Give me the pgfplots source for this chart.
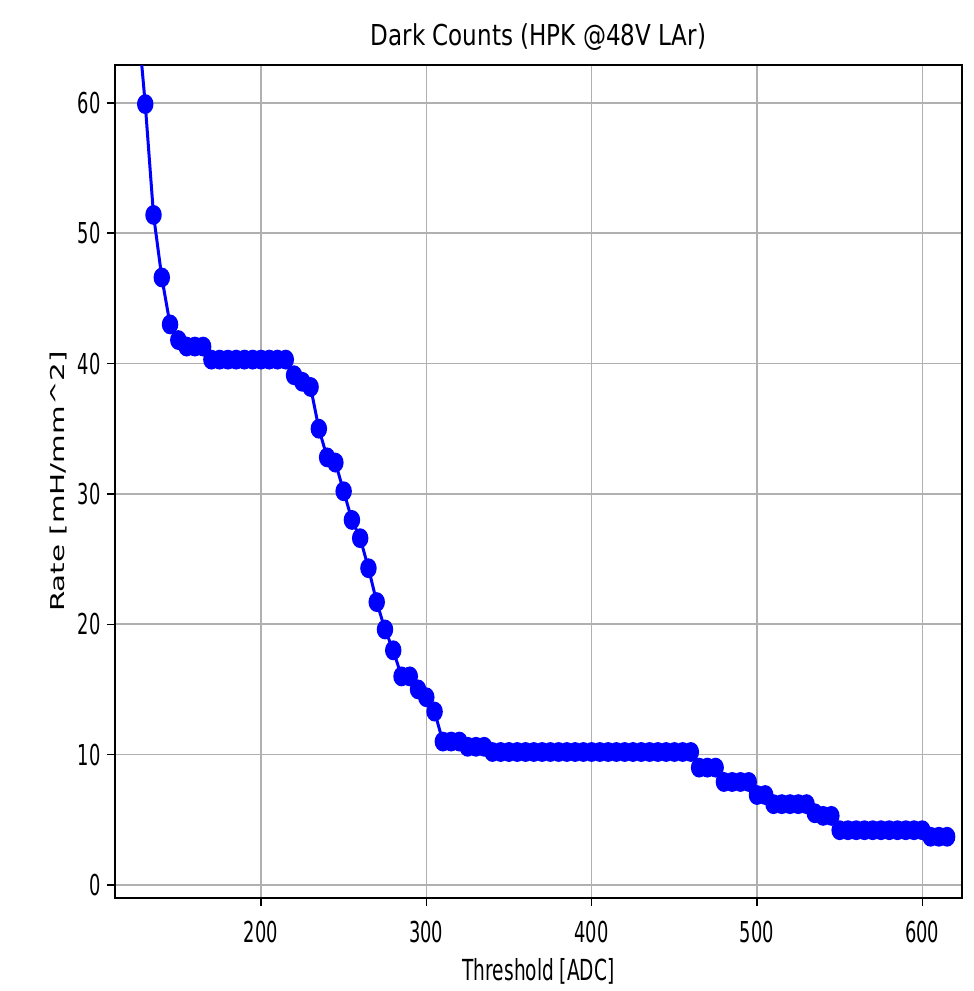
\documentclass[border=0pt]{standalone}
\usepackage{fontspec}
\setmainfont{DejaVu Sans}[FakeStretch=0.64]
\newfontfamily\plainfont{DejaVu Sans}
\newfontfamily\titlefont{DejaVu Sans}[FakeStretch=0.8]
\newfontfamily\tickfont{DejaVu Sans}[FakeStretch=0.62]
\usepackage{graphicx}
\usepackage{pgfplots}
\pgfplotsset{compat=1.18}
\pgfplotstableread{
x y
125 67
130 59.9
135 51.4
140 46.6
145 43.0
150 41.8
155 41.3
160 41.3
165 41.3
170 40.3
175 40.3
180 40.3
185 40.3
190 40.3
195 40.3
200 40.3
205 40.3
210 40.3
215 40.3
220 39.1
225 38.6
230 38.2
235 35.0
240 32.8
245 32.4
250 30.2
255 28.0
260 26.6
265 24.3
270 21.7
275 19.6
280 18.0
285 16.0
290 16.0
295 15.0
300 14.4
305 13.3
310 11.0
315 11.0
320 11.0
325 10.6
330 10.6
335 10.6
340 10.2
345 10.2
350 10.2
355 10.2
360 10.2
365 10.2
370 10.2
375 10.2
380 10.2
385 10.2
390 10.2
395 10.2
400 10.2
405 10.2
410 10.2
415 10.2
420 10.2
425 10.2
430 10.2
435 10.2
440 10.2
445 10.2
450 10.2
455 10.2
460 10.2
465 9.0
470 9.0
475 9.0
480 7.9
485 7.9
490 7.9
495 7.9
500 6.9
505 6.9
510 6.2
515 6.2
520 6.2
525 6.2
530 6.2
535 5.5
540 5.3
545 5.3
550 4.2
555 4.2
560 4.2
565 4.2
570 4.2
575 4.2
580 4.2
585 4.2
590 4.2
595 4.2
600 4.2
605 3.7
610 3.7
615 3.7
}\darkcounts
\begin{document}
\begin{tikzpicture}
\begin{axis}[
  scale only axis,
  width=423.5pt, height=416.5pt,
  xmin=111.7, xmax=624, ymin=-1.0, ymax=62.9,
  xtick={200,300,400,500,600},
  ytick={0,10,20,30,40,50,60},
  grid=major,
  major grid style={draw=black!31, line width=0.75pt},
  axis line style={line width=0.75pt},
  tick align=outside,
  major tick length=4pt,
  tick style={black, line width=0.7pt},
  xtick pos=bottom, ytick pos=left,
  /pgf/number format/assume math mode=true,
  tick label style={font=\tickfont\fontsize{14.4}{16}\selectfont, inner sep=0pt},
  xticklabel style={anchor=base, yshift=-18.3pt},
  yticklabel style={anchor=east, xshift=-3pt},
  title={Dark Counts (HPK @48V LAr)},
  title style={font=\titlefont\fontsize{14.4}{16}\selectfont, at={(axis description cs:0.5,1)}, anchor=base, yshift=3.5pt, inner sep=0pt},
  xlabel={Threshold [ADC]},
  xlabel style={font=\fontsize{14.5}{16}\selectfont, at={(axis description cs:0.5,0)}, anchor=base, yshift=-41pt, inner sep=0pt},
  ylabel={\scalebox{1}[0.65]{\plainfont\fontsize{14.7}{16}\selectfont Rate [mH/mm\^{}2]}},
  ylabel style={at={(axis description cs:0,0.5)}, anchor=center, yshift=28pt, inner sep=0pt},
  clip=true,
]
\addplot[color=blue, line width=1.5pt, mark=*, mark size=4.2pt,
  mark options={fill=blue, draw=blue, xscale=0.8}]
  table[x=x, y=y] {\darkcounts};
\end{axis}
\pgfresetboundingbox
\useasboundingbox (current axis.south west) ++(-57.5pt,-46.5pt) rectangle ([shift={(6pt,32.5pt)}]current axis.north east);
\end{tikzpicture}
\end{document}
